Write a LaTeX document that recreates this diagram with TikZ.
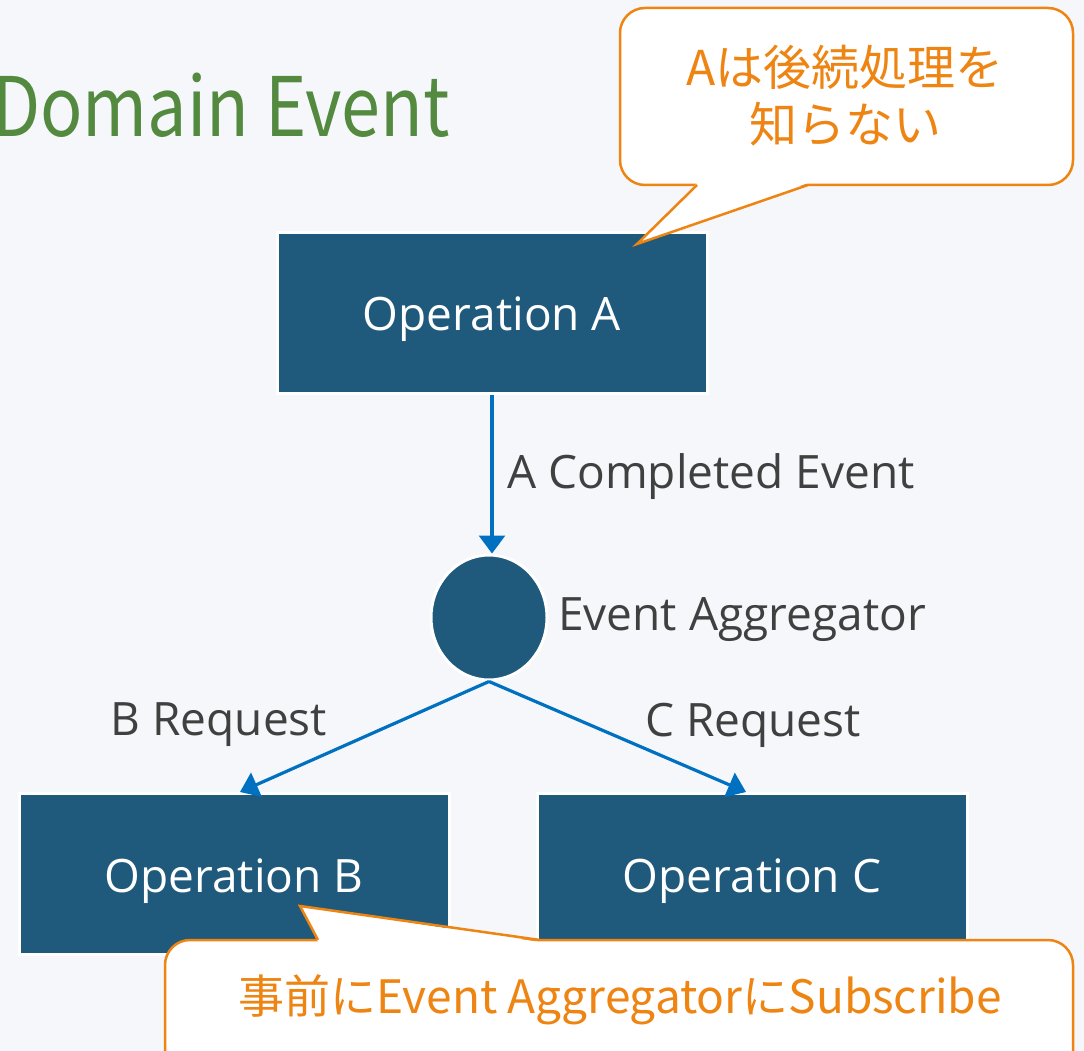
\documentclass[tikz,border=0pt]{standalone}
\usepackage{fontspec}
\setmainfont{Open Sans}
\newfontfamily\jp{Noto Sans CJK JP}
\usetikzlibrary{arrows.meta,shapes.geometric,calc}
\definecolor{bg}{HTML}{F6F7FB}
\definecolor{boxblue}{HTML}{1F5A7C}
\definecolor{arrblue}{HTML}{0070C0}
\definecolor{txtgray}{HTML}{404040}
\definecolor{titlegreen}{HTML}{538A3F}
\definecolor{callorange}{HTML}{EE8412}
\tikzset{
  opbox/.style={rectangle, fill=boxblue, draw=white, line width=3pt,
    minimum width=430pt, minimum height=161pt, text=white,
    font=\fontsize{46}{50}\selectfont},
  optext/.style={text=white, font=\fontsize{46}{50}\selectfont, inner sep=0pt},
  agg/.style={ellipse, fill=boxblue, draw=white, line width=3pt,
    minimum width=116pt, minimum height=125pt, inner sep=0pt},
  arr/.style={draw=arrblue, line width=3.2pt, -{Triangle[width=26pt,length=18pt]}},
  lbl/.style={text=txtgray, font=\fontsize{46}{50}\selectfont, inner sep=0pt, yshift=-5pt},
  callbox/.style={draw=callorange, fill=white, line width=2.5pt, rounded corners=25pt},
  calltxt/.style={text=callorange, font=\jp\fontsize{48}{57}\selectfont, align=center, inner sep=0pt},
}
\begin{document}
\begin{tikzpicture}[x=1pt,y=-1pt]
\fill[bg] (0,0) rectangle (1084,1051);
\useasboundingbox (0,0) rectangle (1084,1051);

\node[anchor=base west, inner sep=0pt, text=titlegreen, font=\jp\fontsize{82}{90}\selectfont] (title) at (-8,137) {\scalebox{0.855}[1]{Domain Event}};

\node[opbox] (A) at (492,312.5) {};
\node[optext, yshift=-7pt] (At) at (A) {Operation A};
\node[agg] (E) at (489,617.5) {};
\node[opbox] (B) at (234,874) {};
\node[optext, yshift=-7pt] (Bt) at (B) {Operation B};
\node[opbox] (C) at (752,874) {};
\node[optext, yshift=-7pt] (Ct) at (C) {Operation C};

\draw[arr] (A.south) -- (A.south |- E.north);
\draw[arr] (E.south) -- ($(B.north)+(6,0)$);
\draw[arr] (E.south) -- ($(C.north)+(-6,0)$);

\node[lbl, anchor=west] (lA) at (507,472) {A Completed Event};
\node[lbl, anchor=west] (lE) at (558,615) {Event Aggregator};
\node[lbl] (lB) at (219,720) {B Request};
\node[lbl] (lC) at (753,720) {C Request};

% callout 1
\draw[callbox] (620,8) rectangle (1073,185);
\fill[white] (697,183) -- (637,244) -- (808,183) -- cycle;
\draw[callorange, line width=2.5pt, line join=miter] (697,185) -- (637,244) -- (808,185);
\node[calltxt] (t1) at (845,96) {Aは後続処理を\\知らない};

% callout 2
\draw[callbox] (165,940) rectangle (1073,1090);
\fill[white] (318,942) -- (300,906) -- (540,942) -- cycle;
\draw[callorange, line width=2.5pt, line join=miter] (318,940) -- (300,906) -- (540,940);
\node[calltxt, font=\jp\fontsize{46}{50}\selectfont] (t2) at (620,1000) {事前にEvent AggregatorにSubscribe};
\end{tikzpicture}
\end{document}
